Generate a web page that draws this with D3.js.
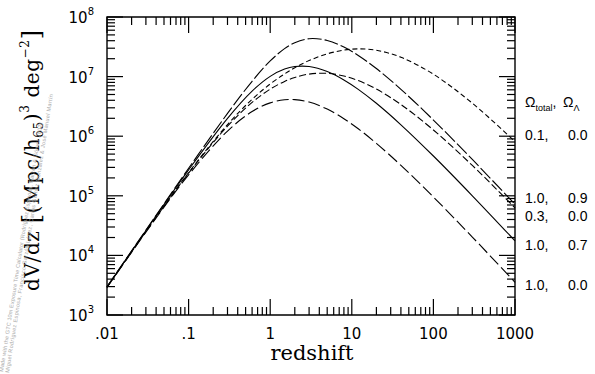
<!DOCTYPE html>
<html>
<head>
<meta charset="utf-8">
<script src="https://cdn.jsdelivr.net/npm/d3@7"></script>
<style>
  body { margin: 0; background: #fff; }
  svg { display: block; }
</style>
</head>
<body>
<div id="chart"></div>
<script>
// comoving volume element dV/dz per deg^2
const redshift = [0.01, 0.03, 0.1, 0.3, 0.6, 1, 1.5, 2, 3, 5, 8, 12, 20, 40, 100, 300, 1000];
const open01 = [2926, 25260, 245000, 1568000, 4158000, 7515000, 11100000, 14060000, 18570000, 24070000, 27820000, 29140000, 27640000, 21150000, 10960000, 3578000, 813000];
const flat09 = [2979, 26650, 289400, 2412000, 8347000, 18300000, 29480000, 37070000, 43200000, 40460000, 31350000, 22650000, 13650000, 6112000, 1868000, 407300, 71890];
const open03 = [2920, 25100, 240100, 1476000, 3684000, 6159000, 8309000, 9676000, 11020000, 11330000, 10230000, 8566000, 6175000, 3403000, 1272000, 323200, 62830];
const flat07 = [2961, 26170, 272100, 1994000, 5710000, 10100000, 13370000, 14730000, 14750000, 12170000, 8798000, 6114000, 3567000, 1554000, 465200, 100100, 17530];
const eds = [2900, 24610, 224400, 1219000, 2590000, 3625000, 4085000, 4109000, 3735000, 2848000, 1967000, 1332000, 759100, 324200, 95480, 20330, 3539];

const omegaTotal = ['0.1', '1.0', '0.3', '1.0', '1.0'];
const omegaLambda = ['0.0', '0.9', '0.0', '0.7', '0.0'];
const xTickLabels = ['.01', '.1', '1', '10', '100', '1000'];
const xDecades = [-2, -1, 0, 1, 2, 3];
const yTickExponents = [3, 4, 5, 6, 7, 8];

const series = [
  { values: open01, dash: '5,3' },
  { values: flat09, dash: '14,3' },
  { values: open03, dash: '7,3' },
  { values: flat07, dash: null },
  { values: eds, dash: '12,4' },
];
// label rows on the right, spread around the curve ends
const labelRows = [135, 198, 216, 245, 285];

const W = 595, H = 374;
const frame = { left: 107, right: 515, top: 17, bottom: 315 };
const sans = '"DejaVu Sans", sans-serif';
const helv = '"Liberation Sans", Arial, sans-serif';
const serif = '"DejaVu Serif", serif';

const svg = d3.select('#chart').append('svg')
  .attr('width', W).attr('height', H)
  .attr('viewBox', `0 0 ${W} ${H}`);

const x = d3.scaleLog().domain([0.01, 1000]).range([frame.left, frame.right]);
const y = d3.scaleLog().domain([1e3, 1e8]).range([frame.bottom, frame.top]);

svg.append('path')
  .attr('d', `M${frame.left},${frame.top}H${frame.right}V${frame.bottom}H${frame.left}Z`)
  .attr('fill', 'none')
  .attr('stroke', '#000')
  .attr('stroke-width', 1.4);

// tick values: decade marks plus 2..9 in between
function logTicks(exps) {
  const out = [];
  exps.forEach((e, i) => {
    out.push({ v: Math.pow(10, e), major: true });
    if (i < exps.length - 1) {
      for (let m = 2; m <= 9; m++) out.push({ v: m * Math.pow(10, e), major: false });
    }
  });
  return out;
}
const xTicks = logTicks(xDecades);
const yTicks = logTicks(yTickExponents);
const tickLength = t => (t.major ? 16 : 8);

// every tick as a two-point segment, drawn with d3.line like the curves
const segments = [];
xTicks.forEach(t => {
  const px = Math.round(x(t.v) * 10) / 10;
  const l = tickLength(t);
  segments.push([[px, frame.bottom], [px, frame.bottom - l]]);
  segments.push([[px, frame.top], [px, frame.top + l]]);
});
yTicks.forEach(t => {
  const py = Math.round(y(t.v) * 10) / 10;
  const l = tickLength(t);
  segments.push([[frame.left, py], [frame.left + l, py]]);
  segments.push([[frame.right, py], [frame.right - l, py]]);
});
const seg = d3.line();
svg.append('g')
  .selectAll('path')
  .data(segments)
  .join('path')
  .attr('d', d => seg(d))
  .attr('fill', 'none')
  .style('stroke', '#000')
  .style('stroke-width', '1.2px');

// curves
const line = d3.line()
  .x((d, i) => x(redshift[i]))
  .y(d => y(d))
  .curve(d3.curveCatmullRom.alpha(0.5));

svg.append('g')
  .selectAll('path')
  .data(series)
  .join('path')
  .attr('d', d => line(d.values))
  .attr('fill', 'none')
  .attr('stroke', '#000')
  .attr('stroke-width', 1.1)
  .attr('stroke-dasharray', d => d.dash);

// x tick labels
svg.append('g')
  .selectAll('text')
  .data(xDecades)
  .join('text')
  .attr('x', d => x(Math.pow(10, d)))
  .attr('y', 339)
  .attr('text-anchor', 'middle')
  .attr('font-family', sans)
  .attr('font-size', 15)
  .text((d, i) => xTickLabels[i]);

// y tick labels 10^n
const yl = svg.append('g')
  .selectAll('text')
  .data(yTickExponents)
  .join('text')
  .attr('x', 94)
  .attr('y', d => y(Math.pow(10, d)) + 6)
  .attr('text-anchor', 'end')
  .attr('font-family', sans)
  .attr('font-size', 15);
yl.append('tspan').text('10');
yl.append('tspan').attr('font-size', 10).attr('dy', -8).text(d => d);

// axis titles
svg.append('text')
  .attr('x', 312).attr('y', 360)
  .attr('text-anchor', 'middle')
  .attr('font-family', serif)
  .attr('font-size', 21)
  .text('redshift');

const yt = svg.append('text')
  .attr('transform', 'translate(39,160) rotate(-90)')
  .attr('text-anchor', 'middle')
  .attr('font-family', serif)
  .attr('font-size', 20)
  .attr('letter-spacing', 0.6);
yt.append('tspan').text('dV/dz ');
yt.append('tspan').attr('font-size', 25).text('[');
yt.append('tspan').text('(Mpc/h');
yt.append('tspan').attr('font-size', 12).attr('dy', 4).text('65');
yt.append('tspan').attr('dy', -4).text(')');
yt.append('tspan').attr('font-size', 12).attr('dy', -10).text('3');
yt.append('tspan').attr('dy', 10).text(' deg');
yt.append('tspan').attr('font-size', 12).attr('dy', -10).text('\u22122');
yt.append('tspan').attr('font-size', 25).attr('dy', 10).text(']');

// legend column on the right
const head = svg.append('text')
  .attr('x', 525).attr('y', 107)
  .attr('font-family', helv)
  .attr('font-size', 14);
head.append('tspan').text('\u03a9');
head.append('tspan').attr('font-size', 9).attr('dy', 4).text('total');
head.append('tspan').attr('dy', -4).text(',');
head.append('tspan').attr('x', 563).text('\u03a9');
head.append('tspan').attr('font-size', 9).attr('dy', 4).text('\u039b');

const rows = svg.append('g')
  .selectAll('text')
  .data(omegaTotal)
  .join('text')
  .attr('y', (d, i) => labelRows[i] + 5)
  .attr('font-family', helv)
  .attr('font-size', 14);
rows.append('tspan').attr('x', 525).text(d => d + ',');
rows.append('tspan').attr('x', 568).text((d, i) => omegaLambda[i]);

// faint credit line along the left edge
const credit = svg.append('g')
  .attr('transform', 'translate(3,372) rotate(-81)')
  .attr('font-family', helv)
  .attr('font-size', 5.5)
  .attr('fill', '#a8a8a8');
credit.append('text').attr('y', 0)
  .attr('textLength', 252).attr('lengthAdjust', 'spacing')
  .text('Made with the GTC 10m Exposure Time Calculator (Rodríguez Espinosa, Garzón & Gómez 2002)');
credit.append('text').attr('y', 6)
  .attr('textLength', 282).attr('lengthAdjust', 'spacing')
  .text('Miguel Rodríguez Espinosa, Francisco Garzón López, Carlos Gómez González & José Manuel Martín');
</script>
</body>
</html>
